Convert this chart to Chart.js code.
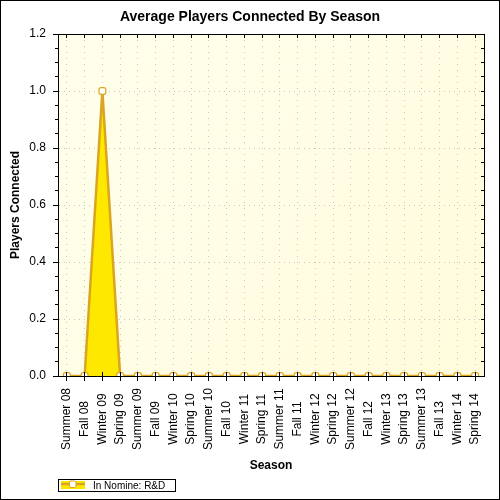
<!DOCTYPE html>
<html>
<head>
<meta charset="utf-8">
<script src="https://cdn.jsdelivr.net/npm/chart.js@4.4.0/dist/chart.umd.min.js"></script>
<style>
html,body{margin:0;padding:0;background:#fff;}
#wrap{width:500px;height:500px;}
canvas{display:block;}
</style>
</head>
<body>
<div id="wrap"><canvas id="c" width="500" height="500"></canvas></div>
<script>
// ---- data ----
const seasons = ['Summer 08','Fall 08','Winter 09','Spring 09','Summer 09','Fall 09','Winter 10','Spring 10',
  'Summer 10','Fall 10','Winter 11','Spring 11','Summer 11','Fall 11','Winter 12','Spring 12',
  'Summer 12','Fall 12','Winter 13','Spring 13','Summer 13','Fall 13','Winter 14','Spring 14'];
const playersConnected = [0,0,1,0,0,0,0,0,0,0,0,0,0,0,0,0,0,0,0,0,0,0,0,0];
const seriesName = 'In Nomine: R&D';
const chartTitle = 'Average Players Connected By Season';
const xTitle = 'Season';
const yTitle = 'Players Connected';
const yMin = 0, yMax = 1.2, yMajorStep = 0.2, yMinorStep = 0.05;

// ---- styles ----
const FONT = '"Liberation Sans", Arial, sans-serif';
const LINE_COLOR = '#DAA520';
const FILL_COLOR = '#FFE800';
const GRID_COLOR = '#c6c6c6';

const decor = {
  id: 'decor',
  beforeDraw(chart) {
    const {ctx, chartArea: a} = chart;
    ctx.save();
    ctx.fillStyle = '#fff';
    ctx.fillRect(0, 0, chart.width, chart.height);
    const g = ctx.createLinearGradient(a.left, a.top, a.right, a.bottom);
    g.addColorStop(0, '#FFFFEC');
    g.addColorStop(1, '#FFFBDC');
    ctx.fillStyle = g;
    ctx.fillRect(a.left, a.top, a.right - a.left, a.bottom - a.top);
    ctx.restore();
  },
  afterDraw(chart) {
    const {ctx, chartArea: a} = chart;
    const xs = chart.scales.x;
    ctx.save();
    // category labels, rotated and centred in the label band
    ctx.font = '12px ' + FONT;
    ctx.fillStyle = '#000';
    ctx.textAlign = 'center';
    ctx.textBaseline = 'middle';
    xs.ticks.forEach((t, i) => {
      const px = xs.getPixelForTick(i);
      ctx.save();
      ctx.translate(px, xs.top + 43);
      ctx.rotate(-Math.PI / 2);
      ctx.fillText(xs.getLabelForValue(t.value), 0, 0);
      ctx.restore();
    });
    // legend box
    const ds = chart.data.datasets[0];
    const lx = a.left + 0.5, ly = chart.height - 20.5;
    ctx.strokeStyle = '#000';
    ctx.lineWidth = 1;
    ctx.strokeRect(lx, ly, 117, 12);
    ctx.fillStyle = ds.backgroundColor;
    ctx.fillRect(lx + 2.5, ly + 1.5, 24, 8);
    ctx.strokeStyle = ds.borderColor;
    ctx.lineWidth = 2.5;
    ctx.beginPath();
    ctx.moveTo(lx + 2.5, ly + 4.5);
    ctx.lineTo(lx + 26.5, ly + 4.5);
    ctx.stroke();
    ctx.fillStyle = '#fff';
    ctx.lineWidth = 1;
    ctx.beginPath();
    ctx.roundRect(lx + 11, ly + 1.5, 6.5, 6.5, 1.5);
    ctx.fill();
    ctx.stroke();
    ctx.fillStyle = '#000';
    ctx.font = '10px ' + FONT;
    ctx.textAlign = 'left';
    ctx.textBaseline = 'alphabetic';
    ctx.fillText(ds.label, lx + 34.5, ly + 9);
    // outer frame
    ctx.strokeStyle = '#000';
    ctx.lineWidth = 1;
    ctx.strokeRect(0.5, 0.5, chart.width - 1, chart.height - 1);
    ctx.restore();
  }
};

new Chart(document.getElementById('c'), {
  type: 'line',
  data: {
    labels: seasons,
    datasets: [{
      label: seriesName,
      data: playersConnected,
      xAxisID: 'x',
      yAxisID: 'y',
      borderColor: LINE_COLOR,
      backgroundColor: FILL_COLOR,
      borderWidth: 2.5,
      fill: 'origin',
      tension: 0,
      pointStyle: 'rectRounded',
      pointRadius: 4,
      pointBorderWidth: 1.2,
      pointBackgroundColor: '#fff',
      pointBorderColor: LINE_COLOR,
      clip: {left: 8, top: 8, right: 8, bottom: 0}
    }]
  },
  options: {
    responsive: false,
    animation: false,
    events: [],
    layout: {padding: 0},
    plugins: {
      legend: {display: false},
      tooltip: {enabled: false},
      title: {
        display: true,
        text: chartTitle,
        color: '#000',
        font: {family: FONT, size: 14, weight: 'bold'},
        padding: {top: 8.6, bottom: 8.6}
      }
    },
    scales: {
      x: {
        type: 'category',
        position: 'bottom',
        weight: 1,
        offset: true,
        ticks: {display: false},
        grid: {color: GRID_COLOR, lineWidth: 1, tickLength: 5, tickColor: '#000', drawTicks: true},
        border: {display: true, color: '#000', width: 1, dash: [1, 5], z: 1},
        title: {display: true, text: xTitle, color: '#000',
          font: {family: FONT, size: 12, weight: 'bold'}, padding: {top: 0, bottom: 27}},
        afterFit(s) { s.height = 124; }
      },
      xIn: {
        type: 'category',
        position: 'bottom',
        weight: 0,
        offset: true,
        ticks: {display: false},
        grid: {drawOnChartArea: false, tickLength: -4, tickColor: '#000', z: 1},
        border: {display: false},
        afterFit(s) { s.height = 0; }
      },
      x2: {
        type: 'category',
        position: 'top',
        offset: true,
        ticks: {display: false},
        grid: {drawOnChartArea: false, tickLength: -4, tickColor: '#000'},
        border: {display: true, color: '#000', width: 1},
        afterFit(s) { s.height = 0; }
      },
      y: {
        type: 'linear',
        position: 'left',
        weight: 1,
        min: yMin, max: yMax,
        ticks: {stepSize: yMajorStep, maxTicksLimit: 100, padding: 7, color: '#000',
          font: {family: FONT, size: 12}, callback: v => Number(v).toFixed(1)},
        grid: {color: GRID_COLOR, lineWidth: 1, tickLength: 5, tickColor: '#000'},
        border: {display: true, color: '#000', width: 1, dash: [1, 4]},
        title: {display: true, text: yTitle, color: '#000',
          font: {family: FONT, size: 12, weight: 'bold'}, padding: {top: 8, bottom: 0}},
        afterFit(s) { s.width = 58; }
      },
      yMinor: {
        type: 'linear',
        position: 'left',
        weight: 0,
        min: yMin, max: yMax,
        ticks: {display: false, stepSize: yMinorStep, maxTicksLimit: 100},
        grid: {drawOnChartArea: false, tickLength: 3, tickColor: '#000'},
        border: {display: false},
        afterFit(s) { s.width = 0; }
      },
      y2: {
        type: 'linear',
        position: 'right',
        min: yMin, max: yMax,
        ticks: {display: false, stepSize: yMinorStep, maxTicksLimit: 100},
        grid: {drawOnChartArea: false, tickLength: -3, tickColor: '#000'},
        border: {display: true, color: '#000', width: 1},
        afterFit(s) { s.width = 16; }
      }
    }
  },
  plugins: [decor]
});
</script>
</body>
</html>
